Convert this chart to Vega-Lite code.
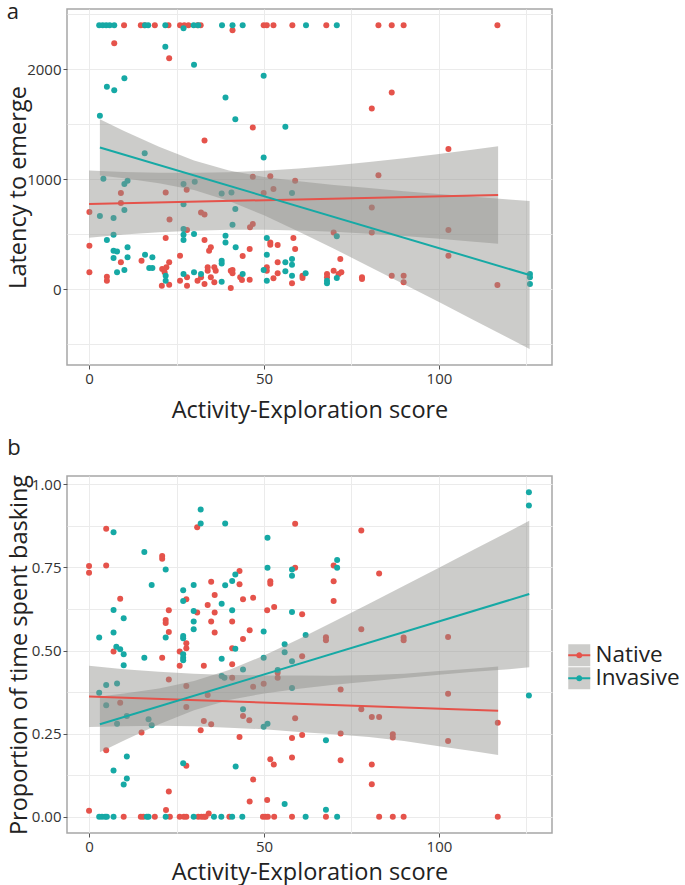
{
  "$schema": "https://vega.github.io/schema/vega-lite/v6.json",
  "padding": {"left": 5, "top": 0, "right": 0, "bottom": 0},
  "background": "white",
  "spacing": 13,
  "config": {
    "font": "Open Sans",
    "view": {"stroke": "#a6a6a6", "strokeWidth": 1.5},
    "axis": {"domain": false, "gridColor": "#ebebeb", "gridWidth": 1, "labelColor": "#333333", "labelFontSize": 15, "titleFontSize": 23.5, "titleFontWeight": "normal", "titleColor": "#222222", "tickColor": "#555555", "tickSize": 4, "labelPadding": 2},
    "title": {"fontSize": 22, "fontWeight": "normal", "anchor": "start", "color": "#222222"},
    "legend": {"orient": "none", "legendX": 501, "legendY": 635, "padding": 0, "title": null, "labelFontSize": 22.5, "labelColor": "#222222", "labelOffset": 5, "rowPadding": 0, "symbolSize": 484}
  },
  "datasets": {
    "ptsA": [
      {"g":"Native","x":10,"y":2400},{"g":"Native","x":14.8,"y":2400},{"g":"Native","x":15.8,"y":2400},{"g":"Native","x":18.8,"y":2400},{"g":"Native","x":22.7,"y":2400},{"g":"Native","x":26,"y":2400},{"g":"Native","x":27.2,"y":2400},{"g":"Native","x":28.4,"y":2400},{"g":"Native","x":31,"y":2400},{"g":"Native","x":31.9,"y":2400},{"g":"Native","x":49.9,"y":2400},{"g":"Native","x":50.8,"y":2400},{"g":"Native","x":52.7,"y":2400},{"g":"Native","x":58.1,"y":2400},{"g":"Native","x":67.8,"y":2400},{"g":"Native","x":82.7,"y":2400},{"g":"Native","x":86.5,"y":2400},{"g":"Native","x":89.9,"y":2400},{"g":"Native","x":116.7,"y":2400},
      {"g":"Native","x":41,"y":2354},{"g":"Native","x":7.2,"y":2236},{"g":"Native","x":22.9,"y":2100},{"g":"Native","x":33,"y":1352},{"g":"Native","x":9.1,"y":873},{"g":"Native","x":9.1,"y":782},{"g":"Native","x":0.1,"y":700},{"g":"Native","x":21.9,"y":879},{"g":"Native","x":23,"y":633},{"g":"Native","x":27.9,"y":903},{"g":"Native","x":32,"y":697},{"g":"Native","x":33,"y":679},{"g":"Native","x":0.1,"y":394},{"g":"Native","x":21.9,"y":464},{"g":"Native","x":28,"y":536},{"g":"Native","x":33,"y":445},{"g":"Native","x":34.8,"y":379},{"g":"Native","x":34.3,"y":348},{"g":"Native","x":0.1,"y":152},{"g":"Native","x":9.1,"y":243},{"g":"Native","x":5.1,"y":112},{"g":"Native","x":5.1,"y":75},{"g":"Native","x":15,"y":257},{"g":"Native","x":20.9,"y":182},{"g":"Native","x":21.6,"y":152},{"g":"Native","x":22.1,"y":197},{"g":"Native","x":22.9,"y":243},{"g":"Native","x":20.8,"y":30},{"g":"Native","x":22.9,"y":39},{"g":"Native","x":26,"y":303},{"g":"Native","x":26,"y":75},{"g":"Native","x":28,"y":106},{"g":"Native","x":28,"y":30},{"g":"Native","x":31,"y":76},{"g":"Native","x":32,"y":106},{"g":"Native","x":33.9,"y":197},{"g":"Native","x":33.9,"y":167},{"g":"Native","x":35.8,"y":197},{"g":"Native","x":36.2,"y":167},{"g":"Native","x":33,"y":45},{"g":"Native","x":34.8,"y":106},{"g":"Native","x":35.8,"y":61},{"g":"Native","x":40.5,"y":167},{"g":"Native","x":40.5,"y":9},
      {"g":"Native","x":86.5,"y":1788},{"g":"Native","x":80.8,"y":1642},{"g":"Native","x":46.8,"y":1470},{"g":"Native","x":46.8,"y":1021},{"g":"Native","x":51.8,"y":1025},{"g":"Native","x":58.9,"y":985},{"g":"Native","x":82.7,"y":1036},{"g":"Native","x":49.9,"y":873},{"g":"Native","x":52.7,"y":909},{"g":"Native","x":80.8,"y":742},{"g":"Native","x":46,"y":561},{"g":"Native","x":46.8,"y":591},{"g":"Native","x":80.8,"y":515},{"g":"Native","x":69.9,"y":515},{"g":"Native","x":51.8,"y":424},{"g":"Native","x":51.8,"y":403},{"g":"Native","x":53.9,"y":400},{"g":"Native","x":58.9,"y":364},{"g":"Native","x":58.4,"y":464},{"g":"Native","x":45.9,"y":364},{"g":"Native","x":43.9,"y":300},{"g":"Native","x":53.9,"y":243},{"g":"Native","x":50.8,"y":197},{"g":"Native","x":50.8,"y":167},{"g":"Native","x":41,"y":173},{"g":"Native","x":41,"y":143},{"g":"Native","x":43.2,"y":106},{"g":"Native","x":43.7,"y":82},{"g":"Native","x":45.9,"y":85},{"g":"Native","x":52.7,"y":97},{"g":"Native","x":53.9,"y":143},{"g":"Native","x":58,"y":52},{"g":"Native","x":61,"y":121},{"g":"Native","x":61,"y":100},{"g":"Native","x":68,"y":136},{"g":"Native","x":68,"y":106},{"g":"Native","x":69.9,"y":167},{"g":"Native","x":71.8,"y":273},{"g":"Native","x":72.1,"y":152},{"g":"Native","x":71.3,"y":136},{"g":"Native","x":78,"y":106},{"g":"Native","x":78,"y":91},{"g":"Native","x":86.5,"y":121},
      {"g":"Native","x":102.7,"y":1273},{"g":"Native","x":102.7,"y":536},{"g":"Native","x":102.7,"y":303},{"g":"Native","x":89.9,"y":121},{"g":"Native","x":89.9,"y":61},{"g":"Native","x":116.7,"y":36},
      {"g":"Invasive","x":2.9,"y":2400},{"g":"Invasive","x":3.9,"y":2400},{"g":"Invasive","x":4.9,"y":2400},{"g":"Invasive","x":5.9,"y":2400},{"g":"Invasive","x":7.2,"y":2400},{"g":"Invasive","x":16,"y":2400},{"g":"Invasive","x":16.9,"y":2400},{"g":"Invasive","x":21.8,"y":2400},{"g":"Invasive","x":29.9,"y":2400},{"g":"Invasive","x":31.2,"y":2400},{"g":"Invasive","x":38,"y":2400},{"g":"Invasive","x":41,"y":2400},{"g":"Invasive","x":43.9,"y":2400},{"g":"Invasive","x":62,"y":2400},{"g":"Invasive","x":70.8,"y":2400},{"g":"Invasive","x":27,"y":2373},
      {"g":"Invasive","x":21.8,"y":2203},{"g":"Invasive","x":30,"y":2039},{"g":"Invasive","x":10.1,"y":1918},{"g":"Invasive","x":5.1,"y":1839},{"g":"Invasive","x":7.2,"y":1809},{"g":"Invasive","x":39,"y":1743},{"g":"Invasive","x":3.1,"y":1576},{"g":"Invasive","x":15.9,"y":1236},{"g":"Invasive","x":4.1,"y":1003},{"g":"Invasive","x":10.1,"y":955},{"g":"Invasive","x":11,"y":985},{"g":"Invasive","x":10.1,"y":718},{"g":"Invasive","x":3.1,"y":664},{"g":"Invasive","x":7,"y":645},{"g":"Invasive","x":27,"y":955},{"g":"Invasive","x":30.2,"y":976},{"g":"Invasive","x":27,"y":770},{"g":"Invasive","x":37.9,"y":870},{"g":"Invasive","x":40.7,"y":879},{"g":"Invasive","x":7,"y":494},{"g":"Invasive","x":5.1,"y":445},{"g":"Invasive","x":27,"y":545},{"g":"Invasive","x":27,"y":494},{"g":"Invasive","x":27,"y":445},{"g":"Invasive","x":30,"y":500},{"g":"Invasive","x":39,"y":485},{"g":"Invasive","x":39,"y":424},{"g":"Invasive","x":7,"y":348},{"g":"Invasive","x":8,"y":342},{"g":"Invasive","x":7,"y":282},{"g":"Invasive","x":11,"y":379},{"g":"Invasive","x":11,"y":288},{"g":"Invasive","x":8,"y":152},{"g":"Invasive","x":10.1,"y":173},{"g":"Invasive","x":16,"y":312},{"g":"Invasive","x":17.2,"y":191},{"g":"Invasive","x":18.1,"y":191},{"g":"Invasive","x":18.1,"y":288},{"g":"Invasive","x":21.9,"y":121},{"g":"Invasive","x":21.9,"y":76},{"g":"Invasive","x":27,"y":136},{"g":"Invasive","x":30,"y":152},{"g":"Invasive","x":32,"y":136},{"g":"Invasive","x":37.9,"y":257},{"g":"Invasive","x":37.9,"y":233},{"g":"Invasive","x":37.9,"y":67},
      {"g":"Invasive","x":49.9,"y":1939},{"g":"Invasive","x":41.8,"y":1545},{"g":"Invasive","x":56.1,"y":1476},{"g":"Invasive","x":49.9,"y":1197},{"g":"Invasive","x":58,"y":873},{"g":"Invasive","x":41.8,"y":727},{"g":"Invasive","x":41,"y":585},{"g":"Invasive","x":70.8,"y":479},{"g":"Invasive","x":50.8,"y":464},{"g":"Invasive","x":41.9,"y":379},{"g":"Invasive","x":50.8,"y":312},{"g":"Invasive","x":56.1,"y":243},{"g":"Invasive","x":58,"y":273},{"g":"Invasive","x":58,"y":221},{"g":"Invasive","x":56.1,"y":161},{"g":"Invasive","x":49.9,"y":173},{"g":"Invasive","x":43.9,"y":136},{"g":"Invasive","x":50.8,"y":76},{"g":"Invasive","x":58,"y":121},{"g":"Invasive","x":61.9,"y":143},{"g":"Invasive","x":68,"y":76},{"g":"Invasive","x":68,"y":52},{"g":"Invasive","x":70.8,"y":100},
      {"g":"Invasive","x":126,"y":136},{"g":"Invasive","x":126,"y":106},{"g":"Invasive","x":126,"y":45}
    ],
    "ptsB": [
      {"g":"Native","x":0,"y":0.018},{"g":"Native","x":9.9,"y":0},{"g":"Native","x":14.8,"y":0},{"g":"Native","x":15.5,"y":0},{"g":"Native","x":18.8,"y":0},{"g":"Native","x":22,"y":0.02},{"g":"Native","x":23.1,"y":0},{"g":"Native","x":25.9,"y":0},{"g":"Native","x":27.1,"y":0},{"g":"Native","x":27.8,"y":0},{"g":"Native","x":31.2,"y":0},{"g":"Native","x":32.1,"y":0},{"g":"Native","x":32.8,"y":0},{"g":"Native","x":33.3,"y":0},{"g":"Native","x":34.2,"y":0.01},{"g":"Native","x":40.1,"y":0},{"g":"Native","x":49.7,"y":0},{"g":"Native","x":50.4,"y":0},{"g":"Native","x":51.1,"y":0},{"g":"Native","x":52.9,"y":0},{"g":"Native","x":58,"y":0},{"g":"Native","x":67.7,"y":0},{"g":"Native","x":82.9,"y":0},{"g":"Native","x":86.8,"y":0},{"g":"Native","x":89.9,"y":0},{"g":"Native","x":116.8,"y":0},
      {"g":"Native","x":22.8,"y":0.076},{"g":"Native","x":45.9,"y":0.046},{"g":"Native","x":50.9,"y":0.05},{"g":"Native","x":46.9,"y":0.112},{"g":"Native","x":80.8,"y":0.098},{"g":"Native","x":80.8,"y":0.157},{"g":"Native","x":51.8,"y":0.173},{"g":"Native","x":52.8,"y":0.157},{"g":"Native","x":58,"y":0.178},{"g":"Native","x":71.9,"y":0.17},{"g":"Native","x":43,"y":0.24},{"g":"Native","x":58,"y":0.237},{"g":"Native","x":60.9,"y":0.246},{"g":"Native","x":71.9,"y":0.25},{"g":"Native","x":44,"y":0.303},{"g":"Native","x":45.8,"y":0.29},{"g":"Native","x":58.9,"y":0.296},{"g":"Native","x":77.8,"y":0.323},{"g":"Native","x":80.8,"y":0.3},{"g":"Native","x":82.9,"y":0.3},{"g":"Native","x":46.9,"y":0.391},{"g":"Native","x":49.9,"y":0.4},{"g":"Native","x":53.9,"y":0.433},{"g":"Native","x":53.9,"y":0.418},{"g":"Native","x":71.9,"y":0.383},{"g":"Native","x":60.9,"y":0.483},{"g":"Native","x":67.7,"y":0.54},{"g":"Native","x":67.7,"y":0.531},{"g":"Native","x":77.8,"y":0.564},{"g":"Native","x":40.9,"y":0.459},{"g":"Native","x":40.9,"y":0.418},{"g":"Native","x":40.9,"y":0.507},{"g":"Native","x":44,"y":0.535},{"g":"Native","x":45.9,"y":0.561},{"g":"Native","x":40.9,"y":0.587},{"g":"Native","x":50.9,"y":0.621},{"g":"Native","x":52.9,"y":0.631},{"g":"Native","x":60.9,"y":0.609},{"g":"Native","x":69.9,"y":0.649},{"g":"Native","x":44,"y":0.654},{"g":"Native","x":46.9,"y":0.659},{"g":"Native","x":82.9,"y":0.732},{"g":"Native","x":69.9,"y":0.708},{"g":"Native","x":51.8,"y":0.708},{"g":"Native","x":51.8,"y":0.701},{"g":"Native","x":43,"y":0.699},{"g":"Native","x":43,"y":0.739},{"g":"Native","x":58.9,"y":0.749},{"g":"Native","x":69.9,"y":0.756},{"g":"Native","x":58.9,"y":0.881},{"g":"Native","x":77.8,"y":0.861},
      {"g":"Native","x":89.9,"y":0.539},{"g":"Native","x":89.9,"y":0.531},{"g":"Native","x":102.6,"y":0.541},{"g":"Native","x":102.6,"y":0.37},{"g":"Native","x":116.8,"y":0.283},{"g":"Native","x":86.8,"y":0.248},{"g":"Native","x":86.8,"y":0.238},{"g":"Native","x":102.6,"y":0.228},
      {"g":"Native","x":0,"y":0.754},{"g":"Native","x":0,"y":0.734},{"g":"Native","x":4.9,"y":0.866},{"g":"Native","x":4.9,"y":0.756},{"g":"Native","x":8.9,"y":0.656},{"g":"Native","x":7,"y":0.497},{"g":"Native","x":20.9,"y":0.784},{"g":"Native","x":20.9,"y":0.776},{"g":"Native","x":22.8,"y":0.621},{"g":"Native","x":21.9,"y":0.592},{"g":"Native","x":21.9,"y":0.583},{"g":"Native","x":22.8,"y":0.556},{"g":"Native","x":20.9,"y":0.478},{"g":"Native","x":22.8,"y":0.413},{"g":"Native","x":30.9,"y":0.871},{"g":"Native","x":27.8,"y":0.654},{"g":"Native","x":34.9,"y":0.707},{"g":"Native","x":35.9,"y":0.667},{"g":"Native","x":30.9,"y":0.614},{"g":"Native","x":33.9,"y":0.637},{"g":"Native","x":35.9,"y":0.614},{"g":"Native","x":34.9,"y":0.587},{"g":"Native","x":35.9,"y":0.554},{"g":"Native","x":27.8,"y":0.522},{"g":"Native","x":27.8,"y":0.507},{"g":"Native","x":25.9,"y":0.497},{"g":"Native","x":25.9,"y":0.454},{"g":"Native","x":32.8,"y":0.454},{"g":"Native","x":27.8,"y":0.393},{"g":"Native","x":27.8,"y":0.33},{"g":"Native","x":33.9,"y":0.366},{"g":"Native","x":32.8,"y":0.288},{"g":"Native","x":34.9,"y":0.278},{"g":"Native","x":31.9,"y":0.26},{"g":"Native","x":8.9,"y":0.343},{"g":"Native","x":15,"y":0.253},{"g":"Native","x":4.9,"y":0.2},{"g":"Native","x":27.8,"y":0.153},
      {"g":"Invasive","x":2.9,"y":0},{"g":"Invasive","x":3.7,"y":0},{"g":"Invasive","x":4.6,"y":0},{"g":"Invasive","x":5.1,"y":0},{"g":"Invasive","x":7,"y":0},{"g":"Invasive","x":16.5,"y":0},{"g":"Invasive","x":17,"y":0},{"g":"Invasive","x":21.9,"y":0},{"g":"Invasive","x":29.9,"y":0},{"g":"Invasive","x":35.7,"y":0},{"g":"Invasive","x":37.8,"y":0},{"g":"Invasive","x":40.9,"y":0},{"g":"Invasive","x":43.8,"y":0},{"g":"Invasive","x":61.9,"y":0},{"g":"Invasive","x":70.9,"y":0},
      {"g":"Invasive","x":55.9,"y":0.038},{"g":"Invasive","x":67.7,"y":0.021},{"g":"Invasive","x":41.9,"y":0.151},{"g":"Invasive","x":67.7,"y":0.23},{"g":"Invasive","x":49.9,"y":0.271},{"g":"Invasive","x":51,"y":0.28},{"g":"Invasive","x":44,"y":0.323},{"g":"Invasive","x":53.9,"y":0.441},{"g":"Invasive","x":58,"y":0.387},{"g":"Invasive","x":44,"y":0.443},{"g":"Invasive","x":49.9,"y":0.478},{"g":"Invasive","x":55.9,"y":0.495},{"g":"Invasive","x":55.9,"y":0.519},{"g":"Invasive","x":58,"y":0.468},{"g":"Invasive","x":61.9,"y":0.547},{"g":"Invasive","x":41.8,"y":0.505},{"g":"Invasive","x":49.9,"y":0.557},{"g":"Invasive","x":40.9,"y":0.621},{"g":"Invasive","x":58,"y":0.616},{"g":"Invasive","x":40.9,"y":0.709},{"g":"Invasive","x":41.8,"y":0.729},{"g":"Invasive","x":51,"y":0.749},{"g":"Invasive","x":58,"y":0.744},{"g":"Invasive","x":58,"y":0.725},{"g":"Invasive","x":70.9,"y":0.772},{"g":"Invasive","x":70.9,"y":0.749},{"g":"Invasive","x":51,"y":0.839},{"g":"Invasive","x":38.9,"y":0.882},
      {"g":"Invasive","x":125.7,"y":0.976},{"g":"Invasive","x":125.7,"y":0.936},{"g":"Invasive","x":125.7,"y":0.365},
      {"g":"Invasive","x":7,"y":0.856},{"g":"Invasive","x":2.9,"y":0.539},{"g":"Invasive","x":7,"y":0.622},{"g":"Invasive","x":9.9,"y":0.597},{"g":"Invasive","x":7,"y":0.554},{"g":"Invasive","x":7.8,"y":0.511},{"g":"Invasive","x":8.9,"y":0.504},{"g":"Invasive","x":9.9,"y":0.489},{"g":"Invasive","x":9.9,"y":0.456},{"g":"Invasive","x":15.8,"y":0.796},{"g":"Invasive","x":21.9,"y":0.744},{"g":"Invasive","x":17.9,"y":0.697},{"g":"Invasive","x":21.9,"y":0.539},{"g":"Invasive","x":15.8,"y":0.478},{"g":"Invasive","x":31.9,"y":0.924},{"g":"Invasive","x":31.9,"y":0.882},{"g":"Invasive","x":26.9,"y":0.681},{"g":"Invasive","x":26.9,"y":0.649},{"g":"Invasive","x":29.9,"y":0.697},{"g":"Invasive","x":37.9,"y":0.641},{"g":"Invasive","x":38.9,"y":0.696},{"g":"Invasive","x":29.9,"y":0.619},{"g":"Invasive","x":29.9,"y":0.587},{"g":"Invasive","x":29.9,"y":0.564},{"g":"Invasive","x":26.9,"y":0.544},{"g":"Invasive","x":26.9,"y":0.537},{"g":"Invasive","x":26.9,"y":0.489},{"g":"Invasive","x":26.9,"y":0.478},{"g":"Invasive","x":26.9,"y":0.471},{"g":"Invasive","x":37.9,"y":0.475},{"g":"Invasive","x":37.9,"y":0.423},{"g":"Invasive","x":38.7,"y":0.418},{"g":"Invasive","x":2.9,"y":0.373},{"g":"Invasive","x":4.9,"y":0.396},{"g":"Invasive","x":8,"y":0.401},{"g":"Invasive","x":4.9,"y":0.335},{"g":"Invasive","x":8,"y":0.28},{"g":"Invasive","x":10.8,"y":0.303},{"g":"Invasive","x":17,"y":0.293},{"g":"Invasive","x":17.9,"y":0.275},{"g":"Invasive","x":10.8,"y":0.181},{"g":"Invasive","x":7,"y":0.139},{"g":"Invasive","x":10.8,"y":0.115},{"g":"Invasive","x":9.9,"y":0.097},{"g":"Invasive","x":26.9,"y":0.161}
    ],
    "lineA": [
      {"g":"Native","x":0,"y":773},{"g":"Native","x":116.9,"y":855},
      {"g":"Invasive","x":3.1,"y":1288},{"g":"Invasive","x":125.9,"y":127}
    ],
    "lineB": [
      {"g":"Native","x":0,"y":0.362},{"g":"Native","x":116.9,"y":0.319},
      {"g":"Invasive","x":3.1,"y":0.278},{"g":"Invasive","x":125.8,"y":0.67}
    ],
    "bandA": [
      {"grp":"Native","x":0,"lo":467,"hi":1079},{"grp":"Native","x":10,"lo":495,"hi":1065},{"grp":"Native","x":20,"lo":516,"hi":1058},{"grp":"Native","x":30,"lo":531,"hi":1057},{"grp":"Native","x":40,"lo":539,"hi":1063},{"grp":"Native","x":50,"lo":540,"hi":1076},{"grp":"Native","x":60,"lo":533,"hi":1097},{"grp":"Native","x":70,"lo":521,"hi":1123},{"grp":"Native","x":80,"lo":503,"hi":1155},{"grp":"Native","x":90,"lo":482,"hi":1190},{"grp":"Native","x":100,"lo":458,"hi":1228},{"grp":"Native","x":110,"lo":431,"hi":1269},{"grp":"Native","x":116.9,"lo":412,"hi":1298},
      {"grp":"Invasive","x":3.1,"lo":1032,"hi":1544},{"grp":"Invasive","x":10,"lo":1008,"hi":1438},{"grp":"Invasive","x":20,"lo":963,"hi":1293},{"grp":"Invasive","x":30,"lo":900,"hi":1168},{"grp":"Invasive","x":40,"lo":800,"hi":1078},{"grp":"Invasive","x":50,"lo":670,"hi":1020},{"grp":"Invasive","x":60,"lo":522,"hi":980},{"grp":"Invasive","x":70,"lo":366,"hi":946},{"grp":"Invasive","x":80,"lo":206,"hi":918},{"grp":"Invasive","x":90,"lo":44,"hi":890},{"grp":"Invasive","x":100,"lo":-119,"hi":865},{"grp":"Invasive","x":110,"lo":-283,"hi":839},{"grp":"Invasive","x":120,"lo":-447,"hi":815},{"grp":"Invasive","x":125.9,"lo":-546,"hi":800}
    ],
    "bandB": [
      {"grp":"Native","x":0,"lo":0.27,"hi":0.454},{"grp":"Native","x":10,"lo":0.272,"hi":0.444},{"grp":"Native","x":20,"lo":0.274,"hi":0.436},{"grp":"Native","x":30,"lo":0.272,"hi":0.43},{"grp":"Native","x":40,"lo":0.268,"hi":0.426},{"grp":"Native","x":50,"lo":0.263,"hi":0.425},{"grp":"Native","x":60,"lo":0.255,"hi":0.425},{"grp":"Native","x":70,"lo":0.248,"hi":0.424},{"grp":"Native","x":80,"lo":0.24,"hi":0.426},{"grp":"Native","x":90,"lo":0.228,"hi":0.43},{"grp":"Native","x":100,"lo":0.212,"hi":0.438},{"grp":"Native","x":110,"lo":0.197,"hi":0.446},{"grp":"Native","x":116.9,"lo":0.186,"hi":0.452},
      {"grp":"Invasive","x":3.1,"lo":0.194,"hi":0.362},{"grp":"Invasive","x":10,"lo":0.229,"hi":0.371},{"grp":"Invasive","x":20,"lo":0.278,"hi":0.386},{"grp":"Invasive","x":30,"lo":0.32,"hi":0.408},{"grp":"Invasive","x":40,"lo":0.351,"hi":0.441},{"grp":"Invasive","x":50,"lo":0.371,"hi":0.485},{"grp":"Invasive","x":60,"lo":0.385,"hi":0.535},{"grp":"Invasive","x":70,"lo":0.397,"hi":0.587},{"grp":"Invasive","x":80,"lo":0.407,"hi":0.641},{"grp":"Invasive","x":90,"lo":0.417,"hi":0.695},{"grp":"Invasive","x":100,"lo":0.427,"hi":0.749},{"grp":"Invasive","x":110,"lo":0.436,"hi":0.804},{"grp":"Invasive","x":120,"lo":0.444,"hi":0.858},{"grp":"Invasive","x":125.8,"lo":0.45,"hi":0.89}
    ]
  },
  "vconcat": [
    {
      "width": 485,
      "height": 356,
      "title": {"text": "a", "frame": "bounds", "offset": -15},
      "layer": [
        {
          "data": {"name": "ptsA"},
          "mark": {"type": "circle", "size": 36, "opacity": 1},
          "encoding": {
            "x": {"field": "x", "type": "quantitative", "scale": {"domain": [-6.3, 132.3], "nice": false, "zero": false},
              "axis": {"title": "Activity-Exploration score", "values": [0, 25, 50, 75, 100, 125], "labelExpr": "datum.value % 50 === 0 ? datum.label : ''", "tickOpacity": {"condition": {"test": "datum.value % 50 === 0", "value": 1}, "value": 0}, "titlePadding": 12}},
            "y": {"field": "y", "type": "quantitative", "scale": {"domain": [-691, 2547], "nice": false, "zero": false},
              "axis": {"title": "Latency to emerge", "format": "d", "values": [-500, 0, 500, 1000, 1500, 2000, 2500], "labelExpr": "datum.value % 1000 === 0 ? datum.label : ''", "tickOpacity": {"condition": {"test": "datum.value % 1000 === 0", "value": 1}, "value": 0}, "titlePadding": -4}},
            "fill": {"field": "g", "type": "nominal", "scale": {"domain": ["Native", "Invasive"], "range": ["#E5534B", "#16A9A5"]},
              "legend": {"symbolType": "M-1,-1M1,1M-1,-0.09H1V0.09H-1ZM0,-0.28A0.28,0.28,0,1,1,0,0.28A0.28,0.28,0,1,1,0,-0.28Z", "zindex": 1, "symbolStrokeWidth": 0}}
          }
        },
        {
          "data": {"name": "bandA"},
          "mark": {"type": "area", "opacity": 0.45},
          "encoding": {
            "x": {"field": "x", "type": "quantitative"},
            "y": {"field": "lo", "type": "quantitative"},
            "y2": {"field": "hi"},
            "color": {"field": "grp", "type": "nominal", "scale": {"domain": ["Invasive", "Native"], "range": ["#8f8f8a", "#8f8f8a"]},
              "legend": {"symbolType": "square", "labelExpr": "''", "zindex": 0, "symbolOpacity": 0.45, "symbolStrokeWidth": 0}}
          }
        },
        {
          "data": {"name": "lineA"},
          "mark": {"type": "line", "strokeWidth": 2},
          "encoding": {
            "x": {"field": "x", "type": "quantitative"},
            "y": {"field": "y", "type": "quantitative"},
            "stroke": {"field": "g", "type": "nominal", "scale": {"domain": ["Native", "Invasive"], "range": ["#E5534B", "#16A9A5"]}, "legend": null}
          }
        }
      ]
    },
    {
      "width": 485,
      "height": 357,
      "title": {"text": "b", "frame": "bounds", "offset": 14},
      "layer": [
        {
          "data": {"name": "ptsB"},
          "mark": {"type": "circle", "size": 36, "opacity": 1},
          "encoding": {
            "x": {"field": "x", "type": "quantitative", "scale": {"domain": [-6.3, 132.3], "nice": false, "zero": false},
              "axis": {"title": "Activity-Exploration score", "values": [0, 25, 50, 75, 100, 125], "labelExpr": "datum.value % 50 === 0 ? datum.label : ''", "tickOpacity": {"condition": {"test": "datum.value % 50 === 0", "value": 1}, "value": 0}, "titlePadding": 6}},
            "y": {"field": "y", "type": "quantitative", "scale": {"domain": [-0.049, 1.025], "nice": false, "zero": false},
              "axis": {"title": "Proportion of time spent basking", "format": ".2f", "values": [0, 0.125, 0.25, 0.375, 0.5, 0.625, 0.75, 0.875, 1], "labelExpr": "abs(datum.value * 4 - round(datum.value * 4)) < 0.001 ? datum.label : ''", "tickOpacity": {"condition": {"test": "abs(datum.value * 4 - round(datum.value * 4)) < 0.001", "value": 1}, "value": 0}, "titlePadding": 0}},
            "fill": {"field": "g", "type": "nominal", "scale": {"domain": ["Native", "Invasive"], "range": ["#E5534B", "#16A9A5"]},
              "legend": {"symbolType": "M-1,-1M1,1M-1,-0.09H1V0.09H-1ZM0,-0.28A0.28,0.28,0,1,1,0,0.28A0.28,0.28,0,1,1,0,-0.28Z", "zindex": 1, "symbolStrokeWidth": 0}}
          }
        },
        {
          "data": {"name": "bandB"},
          "mark": {"type": "area", "opacity": 0.45},
          "encoding": {
            "x": {"field": "x", "type": "quantitative"},
            "y": {"field": "lo", "type": "quantitative"},
            "y2": {"field": "hi"},
            "color": {"field": "grp", "type": "nominal", "scale": {"domain": ["Invasive", "Native"], "range": ["#8f8f8a", "#8f8f8a"]},
              "legend": {"symbolType": "square", "labelExpr": "''", "zindex": 0, "symbolOpacity": 0.45, "symbolStrokeWidth": 0}}
          }
        },
        {
          "data": {"name": "lineB"},
          "mark": {"type": "line", "strokeWidth": 2},
          "encoding": {
            "x": {"field": "x", "type": "quantitative"},
            "y": {"field": "y", "type": "quantitative"},
            "stroke": {"field": "g", "type": "nominal", "scale": {"domain": ["Native", "Invasive"], "range": ["#E5534B", "#16A9A5"]}, "legend": null}
          }
        }
      ]
    }
  ]
}
